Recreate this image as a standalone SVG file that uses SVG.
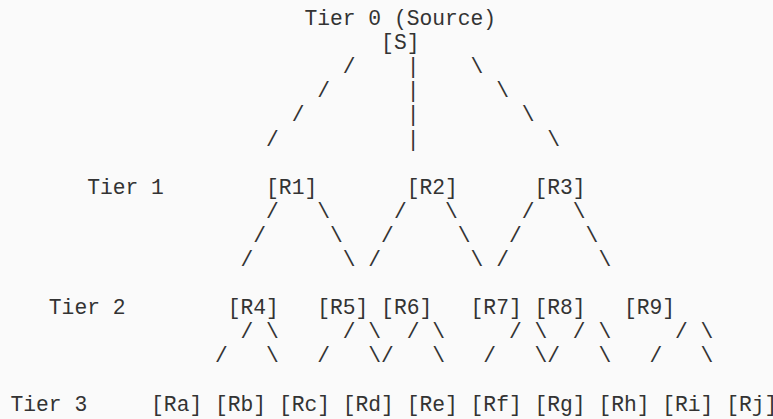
<svg xmlns="http://www.w3.org/2000/svg" width="773" height="419" viewBox="0 0 773 419">
  <style>
    text { font-family: "Liberation Mono", "Courier New", monospace; font-size: 21.3px; fill: #333333; white-space: pre; }
  </style>
  <rect width="773" height="419" fill="#fafafa"/>

  <!-- tier captions -->
  <g id="tier-labels">
    <text x="304.44" y="25">Tier 0 (Source)</text>
    <text x="87.18" y="193.7">Tier 1</text>
    <text x="48.84" y="314.2">Tier 2</text>
    <text x="10.5" y="410.6">Tier 3</text>
  </g>

  <!-- branches drawn as monospace strokes -->
  <g id="connectors">
    <text x="342.78" y="73.2">/</text><text x="406.68" y="73.2">|</text><text x="470.58" y="73.2">\</text>
    <text x="317.22" y="97.3">/</text><text x="406.68" y="97.3">|</text><text x="496.14" y="97.3">\</text>
    <text x="291.66" y="121.4">/</text><text x="406.68" y="121.4">|</text><text x="521.7" y="121.4">\</text>
    <text x="266.1" y="145.5">/</text><text x="406.68" y="145.5">|</text><text x="547.26" y="145.5">\</text>

    <text x="266.1" y="217.8">/</text><text x="317.22" y="217.8">\</text>
    <text x="393.9" y="217.8">/</text><text x="445.02" y="217.8">\</text>
    <text x="521.7" y="217.8">/</text><text x="572.82" y="217.8">\</text>
    <text x="253.32" y="241.9">/</text><text x="330" y="241.9">\</text>
    <text x="381.12" y="241.9">/</text><text x="457.8" y="241.9">\</text>
    <text x="508.92" y="241.9">/</text><text x="585.6" y="241.9">\</text>
    <text x="240.54" y="266">/</text><text x="342.78" y="266">\</text>
    <text x="368.34" y="266">/</text><text x="470.58" y="266">\</text>
    <text x="496.14" y="266">/</text><text x="598.38" y="266">\</text>

    <text x="240.54" y="338.3">/</text><text x="266.1" y="338.3">\</text>
    <text x="342.78" y="338.3">/</text><text x="368.34" y="338.3">\</text>
    <text x="406.68" y="338.3">/</text><text x="432.24" y="338.3">\</text>
    <text x="508.92" y="338.3">/</text><text x="534.48" y="338.3">\</text>
    <text x="572.82" y="338.3">/</text><text x="598.38" y="338.3">\</text>
    <text x="675.06" y="338.3">/</text><text x="700.62" y="338.3">\</text>
    <text x="214.98" y="362.4">/</text><text x="266.1" y="362.4">\</text>
    <text x="317.22" y="362.4">/</text><text x="368.34" y="362.4">\</text>
    <text x="381.12" y="362.4">/</text><text x="432.24" y="362.4">\</text>
    <text x="483.36" y="362.4">/</text><text x="534.48" y="362.4">\</text>
    <text x="547.26" y="362.4">/</text><text x="598.38" y="362.4">\</text>
    <text x="649.5" y="362.4">/</text><text x="700.62" y="362.4">\</text>
  </g>

  <!-- tier 0 -->
  <g id="node-S"><text x="381.12" y="49.1">[S]</text></g>

  <!-- tier 1 -->
  <g id="node-R1"><text x="266.1" y="193.7">[R1]</text></g>
  <g id="node-R2"><text x="406.68" y="193.7">[R2]</text></g>
  <g id="node-R3"><text x="534.48" y="193.7">[R3]</text></g>

  <!-- tier 2 -->
  <g id="node-R4"><text x="227.76" y="314.2">[R4]</text></g>
  <g id="node-R5"><text x="317.22" y="314.2">[R5]</text></g>
  <g id="node-R6"><text x="381.12" y="314.2">[R6]</text></g>
  <g id="node-R7"><text x="470.58" y="314.2">[R7]</text></g>
  <g id="node-R8"><text x="534.48" y="314.2">[R8]</text></g>
  <g id="node-R9"><text x="623.94" y="314.2">[R9]</text></g>

  <!-- tier 3 -->
  <g id="node-Ra"><text x="151.08" y="410.6">[Ra]</text></g>
  <g id="node-Rb"><text x="214.98" y="410.6">[Rb]</text></g>
  <g id="node-Rc"><text x="278.88" y="410.6">[Rc]</text></g>
  <g id="node-Rd"><text x="342.78" y="410.6">[Rd]</text></g>
  <g id="node-Re"><text x="406.68" y="410.6">[Re]</text></g>
  <g id="node-Rf"><text x="470.58" y="410.6">[Rf]</text></g>
  <g id="node-Rg"><text x="534.48" y="410.6">[Rg]</text></g>
  <g id="node-Rh"><text x="598.38" y="410.6">[Rh]</text></g>
  <g id="node-Ri"><text x="662.28" y="410.6">[Ri]</text></g>
  <g id="node-Rj"><text x="726.18" y="410.6">[Rj]</text></g>
</svg>
